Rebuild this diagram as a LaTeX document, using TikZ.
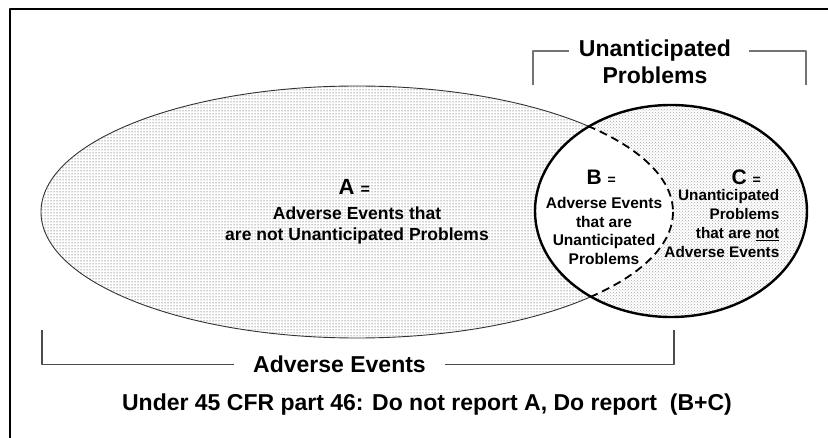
\documentclass[tikz,border=0pt]{standalone}
\usepackage{fontspec}
\setmainfont{Liberation Sans}
\usetikzlibrary{patterns}

\begin{document}
\begin{tikzpicture}[x=1pt, y=-1pt, join=round,
	lab/.style={inner sep=0pt, font=\bfseries},
	brk/.style={line width=1.6pt, draw=black!55},
	brkb/.style={line width=1.3pt, draw=black!70}]
	\useasboundingbox (0,0) rectangle (828,438);
	% frame
	\draw[line width=2pt] (9.5,438) -- (9.5,9.5) -- (828,9.5);
	% the two sets
	\fill[pattern=dots, pattern color=black!85] (357,212) ellipse [x radius=316, y radius=126];
	\fill[pattern=crosshatch dots, pattern color=black!35] (671,211) ellipse [x radius=136, y radius=106];
	\begin{scope}
		\clip (357,212) ellipse [x radius=316, y radius=126];
		\fill[white] (671,211) ellipse [x radius=136, y radius=106];
	\end{scope}
	\begin{scope}[even odd rule]
		\clip (0,0) rectangle (828,438) (671,211) ellipse [x radius=136, y radius=106];
		\draw[line width=0.9pt, black!80] (357,212) ellipse [x radius=316, y radius=126];
	\end{scope}
	\begin{scope}
		\clip (671,211) ellipse [x radius=136, y radius=106];
		\draw[line width=1.8pt, dash pattern=on 8pt off 5pt] (357,212) ellipse [x radius=316, y radius=126];
	\end{scope}
	\draw[line width=2.4pt] (671,211) ellipse [x radius=136, y radius=106];
	% labels
	\node[lab, anchor=base west] (letA) at (338.5,195)
		{\fontsize{22}{22}\selectfont A \fontsize{16}{16}\selectfont =};
	\node[lab, anchor=north, align=center, font=\fontsize{17.5}{21}\selectfont\bfseries] (txtA) at (357,206.3)
		{Adverse Events that\\are not Unanticipated Problems};
	\node[lab, anchor=base west] (letB) at (586.5,185)
		{\fontsize{21}{21}\selectfont B \fontsize{14}{14}\selectfont =};
	\node[lab, anchor=north, align=center, font=\fontsize{15.5}{18.5}\selectfont\bfseries] (txtB) at (604,197.2)
		{Adverse Events\\that are\\Unanticipated\\Problems};
	\node[lab, anchor=base west] (letC) at (731.5,185)
		{\fontsize{21}{21}\selectfont C \fontsize{14}{14}\selectfont =};
	\node[lab, anchor=north east, align=right, font=\fontsize{15.3}{19}\selectfont\bfseries] (txtC) at (779.5,189.3)
		{Unanticipated\\Problems\\that are \underline{not}\\Adverse Events};
	% brackets
	\node[lab, anchor=north, align=center, font=\fontsize{23}{27}\selectfont\bfseries] (ttlUP) at (655,39.2)
		{Unanticipated\\Problems};
	\coordinate (upL) at (533,85);
	\coordinate (upR) at (806,85);
	\draw[brk] (upL) |- ([xshift=-10pt]ttlUP.north west |- 0,51);
	\draw[brk] ([xshift=18pt]ttlUP.north east |- 0,51) -| (upR);
	\node[lab, anchor=base, font=\fontsize{23}{23}\selectfont\bfseries] (ttlAE) at (339.5,373) {Adverse Events};
	\coordinate (aeL) at (42,330);
	\coordinate (aeR) at (674,330);
	\draw[brkb] (aeL) |- ([xshift=-19pt]ttlAE.west);
	\draw[brkb] ([xshift=19pt]ttlAE.east) -| (aeR);
	\node[lab, anchor=base, font=\fontsize{23}{23}\selectfont\bfseries] (rule) at (427,410)
		{Under 45 CFR part 46: Do not report A, Do report~ (B+C)};
\end{tikzpicture}
\end{document}
